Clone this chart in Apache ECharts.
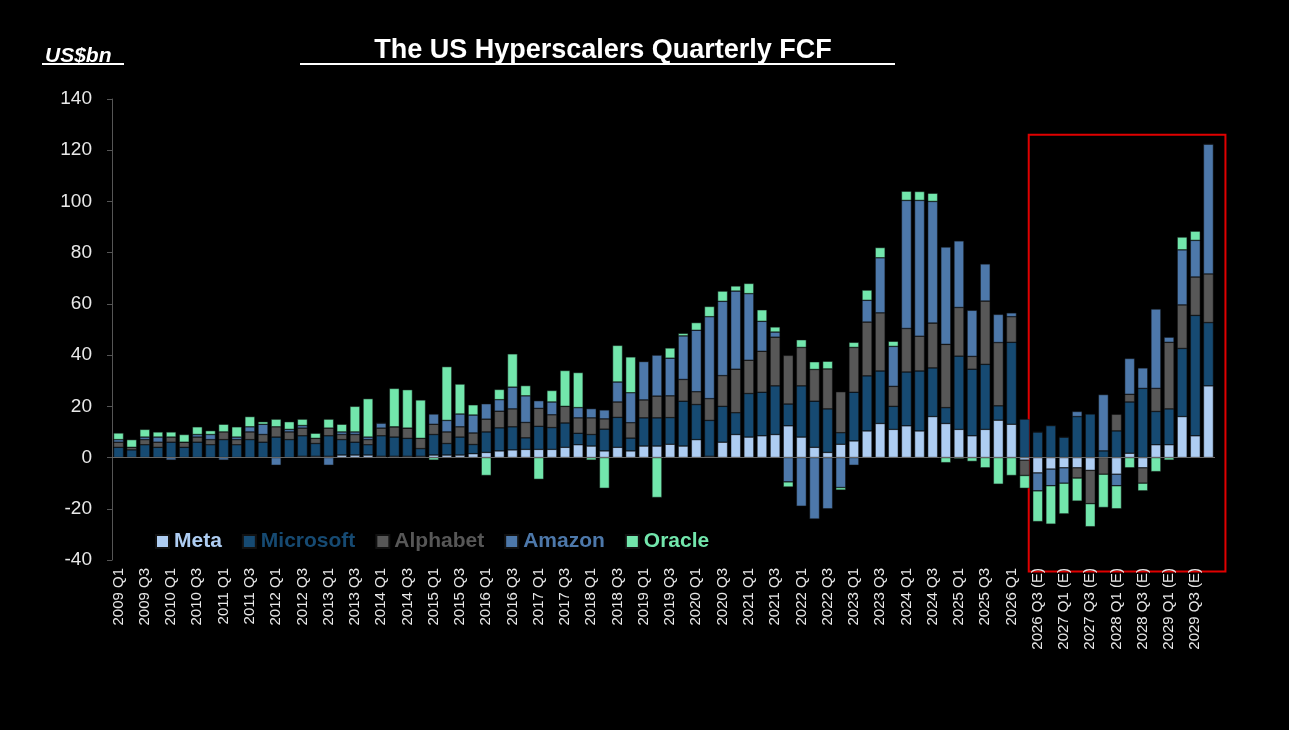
<!DOCTYPE html>
<html>
<head>
<meta charset="utf-8">
<script src="https://cdn.jsdelivr.net/npm/echarts@6/dist/echarts.min.js"></script>
<style>
  html, body { margin: 0; padding: 0; background: #000; }
  #chart { width: 1289px; height: 730px; }
</style>
</head>
<body>
<div id="chart"></div>
<script>
// quarters 2009 Q1 .. 2029 Q4, estimates from 2026 Q3
var quarters = []
for (var y = 2009; y <= 2029; y++) {
  for (var q = 1; q <= 4; q++) {
    var est = (y > 2026 || (y == 2026 && q >= 3)) ? ' (E)' : ''
    quarters.push(y + ' Q' + q + est)
  }
}

var meta = [0,0,0,0,0,0,0,0,0,0,0,0,0,0,0.5,0.5,0.5,1,1,1,
  0.5,0.5,0.5,0.5,1,1,1,1.5,2,2.6,3,3.2,3.2,3.2,4,5,4.5,2.6,4,2.6,
  4.5,4.5,5.2,4.5,7,0.5,6,9,8,8.5,9,12.4,8,4,2,5.2,6.5,10.4,13.3,11,
  12.4,10.4,16,13.3,11,8.5,11,14.6,13,-1,-6,-4.5,-4,-4,-5,0,-6.5,1.7,-4,5,
  5,16,8.5,28]
var microsoft = [4,3,5,4,6,4,6,5,7,5,7,6,8,7,8,5,8,6,5,4,
  8,7.5,7,3,8,4.5,7,3.6,8,9,9,4.5,9,8.5,9.5,4.5,4.5,8.5,11.7,5,
  11,11,10.4,17.5,13.7,14,14,8.5,17,17,19,8.5,20,18,17,4.5,19,21.5,20.5,9,
  21,23.4,19,6.2,28.6,26,25.4,5.6,32,15,10,12.5,8,16,17,2.6,10.4,20,27,13,
  14,26.6,47,24.7]
var alphabet = [2,1,2,2,2,2,2,2,3,2,3,3,4,3,3,2,3,2,3,2,
  3,4,4,4,4,4.5,4,4.5,5,6.5,7,6,7,5,6.5,6,6.5,4,6,6,
  7,8.5,8.5,8.5,5,8.5,12,17,13,16,19,19,15,12.4,15.6,16,17.5,21,22.7,7.8,
  17,13.6,17.5,24.7,19,5,24.7,24.7,10,-6,0,0,0,-4,-13,-6.5,6.5,3,-6,9,
  26,17,15,19]
var amazon = [1,0,1,2,-1,0,1,2,-1,1,2,4,-3,1,1,0,-3,1,1,1,
  2,0,0,0,4,4.5,5,7,6,4.5,8.5,10.4,3,5,0,4,3.6,3.5,7.8,11.7,
  15,16,14.7,17,24,32,29,30.5,26,11.7,2,-9.5,-19,-24,-20,-11.7,-3,8.5,21.5,15.6,
  50,53,47.5,38,26,18,14.5,11,1.5,0,-7,-6.5,-6,2,0,22,-4.5,14,8,31,
  2,21.5,14.3,50.7]
var oracle = [2.6,3,3,2,2,3,3,1.5,3,4,4,1,3,3,2.5,2,3.5,3,10,15,
  0,15,15,15,-1,21,11.7,4,-7,4,13,4,-8.5,4.5,14,13.7,-1,-12,14.3,14,
  0,-15.6,4,1,3,4,4,2,4,4.5,2,-2,3,3,3,-1,2,4,4,2,
  3.6,3.5,3.2,-2,-0.5,-1.5,-4,-10.4,-7,-5,-12,-15,-12,-9,-9,-13,-9,-4,-3,-5.5,
  -1,5,3.6,0]

var names = ['Meta', 'Microsoft', 'Alphabet', 'Amazon', 'Oracle']
var colors = ['#aecdf2', '#164a72', '#575757', '#4d78aa', '#72e6ac']
var values = [meta, microsoft, alphabet, amazon, oracle]

var chart = echarts.init(document.getElementById('chart'))

var option = {
  backgroundColor: '#000',
  animation: false,
  color: colors,
  title: [
    {
      text: 'The US Hyperscalers Quarterly FCF',
      left: 598, top: 32, textAlign: 'center',
      textStyle: { color: '#fff', fontSize: 27, fontWeight: 'bold', fontFamily: 'Liberation Sans' }
    },
    {
      text: 'US$bn',
      left: 40, top: 41,
      textStyle: { color: '#fff', fontSize: 21, fontWeight: 'bold', fontStyle: 'italic', fontFamily: 'Liberation Sans' }
    }
  ],
  legend: {
    left: 150, top: 526,
    icon: 'rect', itemWidth: 13, itemHeight: 13, itemGap: 20,
    data: names.map((n, i) => ({ name: n, textStyle: { color: colors[i] } })),
    textStyle: { fontSize: 21, fontWeight: 'bold', fontFamily: 'Liberation Sans' }
  },
  grid: { left: 112, right: 74, top: 99, bottom: 170 },
  xAxis: {
    type: 'category',
    data: quarters,
    axisLine: { onZero: false, show: false },
    axisTick: { show: false },
    axisLabel: { rotate: 90, interval: 1, color: '#e8e8e8', fontSize: 15, fontFamily: 'Liberation Sans', margin: 8 }
  },
  yAxis: {
    type: 'value',
    min: -40, max: 140, interval: 20,
    axisLine: { show: true, lineStyle: { color: '#555' } },
    axisTick: { show: true, length: 5, lineStyle: { color: '#555' } },
    splitLine: { show: false },
    axisLabel: { color: '#e8e8e8', fontSize: 19, fontFamily: 'Liberation Sans', margin: 20 }
  },
  series: names.map((n, i) => ({
    name: n,
    type: 'bar',
    stack: 'fcf',
    barCategoryGap: '24%',
    data: values[i],
    itemStyle: { color: colors[i], borderColor: '#111', borderWidth: 0.5 },
    markLine: i == 0 ? {
      silent: true, symbol: 'none', label: { show: false },
      lineStyle: { color: '#666', type: 'solid', width: 1 },
      data: [{ yAxis: 0 }]
    } : undefined
  }))
}

chart.setOption(option)

// red box round the estimate quarters, plus title underlines
var boxX0 = chart.convertToPixel({ xAxisIndex: 0 }, quarters[70])
var boxX1 = chart.convertToPixel({ xAxisIndex: 0 }, quarters[83])
var boxTop = chart.convertToPixel({ yAxisIndex: 0 }, 126)
var boxBot = chart.convertToPixel({ yAxisIndex: 0 }, -44.5)
chart.setOption({
  graphic: [
    {
      type: 'rect',
      shape: { x: boxX0 - 9, y: boxTop, width: boxX1 - boxX0 + 26, height: boxBot - boxTop },
      style: { fill: 'none', stroke: '#e00000', lineWidth: 2 }
    },
    { type: 'line', shape: { x1: 300, y1: 64, x2: 895, y2: 64 }, style: { stroke: '#fff', lineWidth: 2 } },
    { type: 'line', shape: { x1: 42, y1: 64, x2: 124, y2: 64 }, style: { stroke: '#fff', lineWidth: 2 } }
  ]
})
</script>
</body>
</html>
